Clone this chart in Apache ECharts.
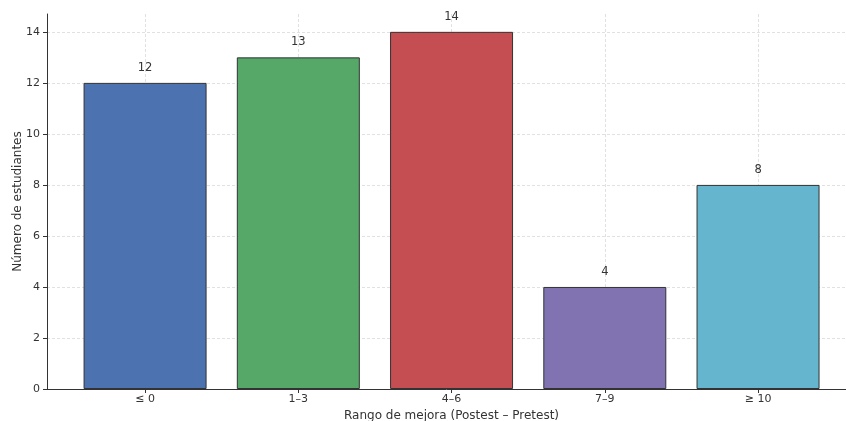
<!DOCTYPE html>
<html>
<head>
<meta charset="utf-8">
<script src="https://cdn.jsdelivr.net/npm/echarts@6/dist/echarts.min.js"></script>
<style>
  html, body { margin: 0; padding: 0; background: #fff; }
  #chart { width: 846px; height: 421px; }
</style>
</head>
<body>
<div id="chart"></div>
<script>
// categorias y valores
const categories = ["≤ 0", "1–3", "4–6", "7–9", "≥ 10"];
const counts = [12, 13, 14, 4, 8];
const barColors = ["#4C72B0", "#55A868", "#C44E52", "#8172B2", "#64B5CD"];
const yTicks = [0, 2, 4, 6, 8, 10, 12, 14];
const xTicks = [0, 1, 2, 3, 4];

const chart = echarts.init(document.getElementById("chart"), null, { renderer: "canvas" });

const gridLine = {
  show: true,
  lineStyle: { color: "#d9d9d9", type: [3, 2], width: 0.8 }
};

const option = {
  animation: false,
  textStyle: { fontFamily: "DejaVu Sans" },
  grid: { left: 47, right: 0, top: 14, bottom: 32, containLabel: false, outerBoundsMode: "none" },
  xAxis: {
    type: "value",
    min: -0.64,
    max: 4.574,
    name: "Rango de mejora (Postest – Pretest)",
    nameLocation: "middle",
    nameGap: 16,
    nameTextStyle: { color: "#333", fontSize: 12, padding: [0, 0, 0, 10] },
    axisLine: { show: true, onZero: false, lineStyle: { color: "#333", width: 1 } },
    axisTick: { show: true, length: 4, customValues: xTicks, lineStyle: { color: "#333" } },
    axisLabel: {
      customValues: xTicks,
      color: "#333",
      fontSize: 11,
      margin: 5,
      formatter: function (v) {
        return categories[Math.round(v)];
      }
    },
    splitLine: gridLine
  },
  yAxis: {
    type: "value",
    min: 0,
    max: 14.7,
    name: "Número de estudiantes",
    nameLocation: "middle",
    nameMoveOverlap: false,
    nameGap: 23,
    nameTextStyle: { color: "#333", fontSize: 12 },
    axisLine: { show: true, onZero: false, lineStyle: { color: "#333", width: 1 } },
    axisTick: { show: true, length: 4, customValues: yTicks, lineStyle: { color: "#333" } },
    axisLabel: { customValues: yTicks, color: "#333", fontSize: 11, margin: 7 },
    splitLine: gridLine
  },
  series: [
    {
      type: "bar",
      barWidth: 123,
      data: counts.map(function (v, i) {
        return {
          value: [i, v],
          itemStyle: { color: barColors[i], borderColor: "#333", borderWidth: 1 }
        };
      }),
      label: {
        show: true,
        position: "top",
        distance: 9,
        color: "#333",
        fontSize: 11.5,
        formatter: function (p) { return p.value[1]; }
      },
      z: 3
    }
  ]
};

chart.setOption(option);
</script>
</body>
</html>
